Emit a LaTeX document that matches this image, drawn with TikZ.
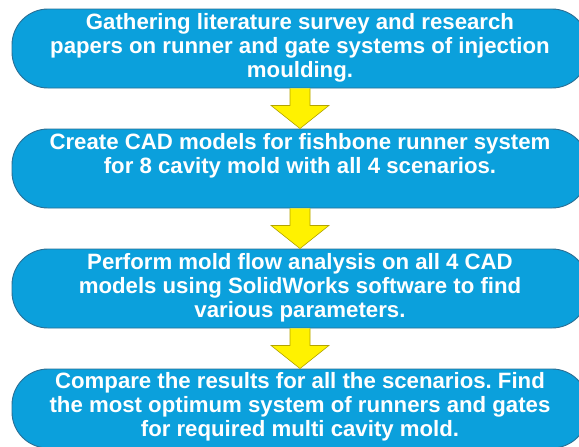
\documentclass[tikz,border=0pt]{standalone}
\usepackage{fontspec}
\setmainfont{Liberation Sans}
\frenchspacing
\begin{document}
\definecolor{boxblue}{HTML}{0BA0DC}
\definecolor{boxedge}{HTML}{2A6F95}
\definecolor{arrowfill}{HTML}{FFF200}
\definecolor{arrowedge}{HTML}{B3A400}
\begin{tikzpicture}[x=1pt,y=-1pt,
  stepbox/.style={draw=boxedge,line width=0.9pt,fill=boxblue,rounded corners=36pt,
    minimum width=576pt,minimum height=79pt,inner sep=0pt},
  steptext/.style={anchor=north,inner sep=0pt,align=center,text=white,
    font=\fontsize{22.2}{24}\selectfont\bfseries},
  flowarrow/.style={draw=arrowedge,line width=0.6pt,fill=arrowfill,line join=miter}]
  \useasboundingbox (0,0) rectangle (579,447);
  \fill[white] (0,0) rectangle (579,447);

  % process steps
  \node[stepbox] (b1) at (300,48.5) {};
  \node[stepbox] (b2) at (300,168.5) {};
  \node[stepbox] (b3) at (300,288.5) {};
  \node[stepbox] (b4) at (300,408.5) {};

  \node[steptext] (t1) at ([yshift=-4.5pt]b1.north) {Gathering literature survey and research\\papers on runner and gate systems of injection\\moulding.};
  \node[steptext] (t2) at ([yshift=-4.5pt]b2.north) {Create CAD models for fishbone runner system\\for 8 cavity mold with all 4 scenarios.};
  \node[steptext] (t3) at ([yshift=-4.5pt]b3.north) {Perform mold flow analysis on all 4 CAD\\models using SolidWorks software to find\\various parameters.};
  \node[steptext] (t4) at ([yshift=-4pt]b4.north) {Compare the results for all the scenarios. Find\\the most optimum system of runners and gates\\for required multi cavity mold.};

  % block arrows between the steps
  \foreach \a/\b in {b1/b2,b2/b3,b3/b4}{
    \draw[flowarrow] ([xshift=-10pt]\a.south) -- ([xshift=-10pt,yshift=-17pt]\a.south)
      -- ([xshift=-29pt,yshift=-17pt]\a.south) -- (\b.north)
      -- ([xshift=29pt,yshift=-17pt]\a.south) -- ([xshift=10pt,yshift=-17pt]\a.south)
      -- ([xshift=10pt]\a.south);
  }
\end{tikzpicture}
\end{document}
